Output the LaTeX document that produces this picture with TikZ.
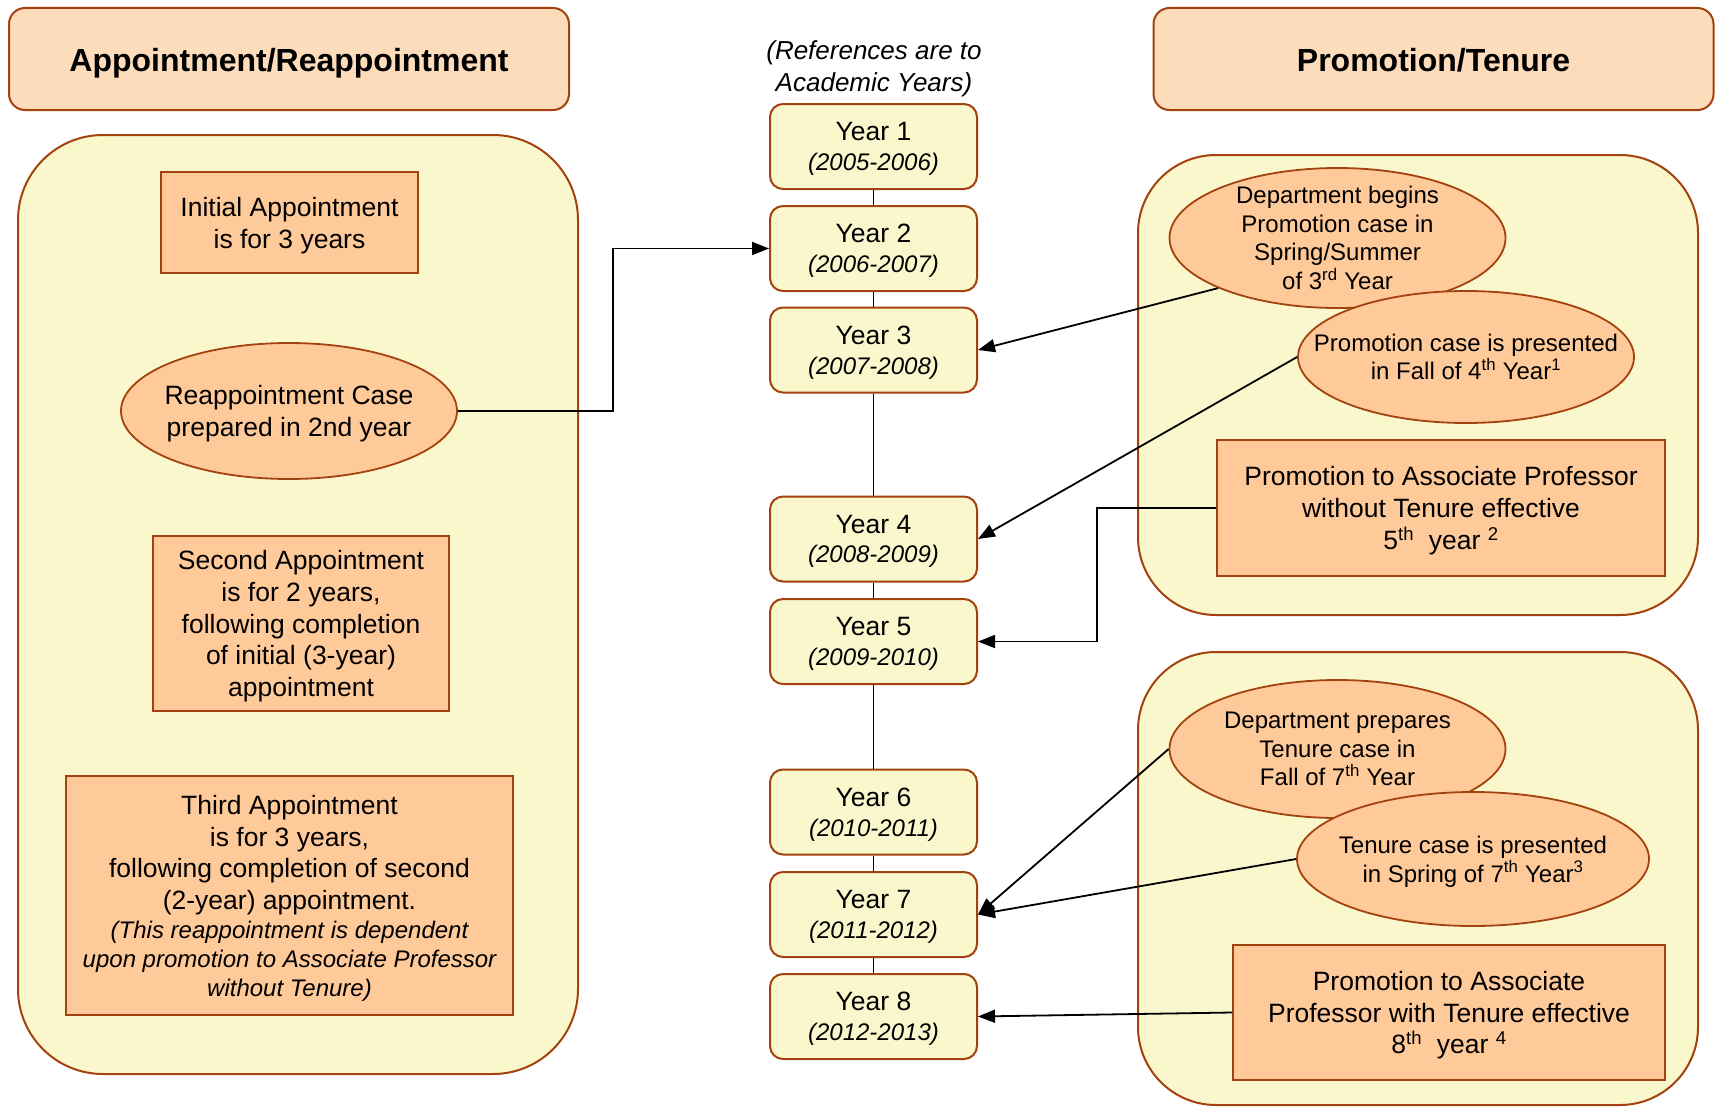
\documentclass[tikz,border=0pt]{standalone}
\usepackage{fontspec}
\setmainfont{Liberation Sans}
\usetikzlibrary{shapes.geometric,arrows.meta}
\definecolor{bord}{HTML}{A3420F}
\definecolor{hdrfill}{HTML}{FDDCBB}
\definecolor{panfill}{HTML}{FAF7CD}
\definecolor{pchfill}{HTML}{FFCA99}
\newcommand\fsA{\fontsize{26.5}{31.8}\selectfont}
\newcommand\fsB{\fontsize{24}{28.6}\selectfont}
\newcommand\fsY{\fontsize{26.5}{29.6}\selectfont}
\newcommand\fsYi{\fontsize{24}{29.6}\selectfont\itshape}
\newcommand\fsH{\fontsize{32}{38}\selectfont\bfseries}
\tikzset{
  hdrbox/.style={draw=bord,fill=hdrfill,line width=2pt,rounded corners=16pt,minimum width=560pt,minimum height=102pt,inner sep=0pt,font=\fsH,text height=25.6pt,text depth=0pt},
  panel/.style={draw=bord,fill=panfill,line width=2pt,inner sep=0pt},
  yearbox/.style={draw=bord,fill=panfill,line width=2pt,rounded corners=13pt,minimum width=207pt,minimum height=85pt,inner sep=0pt,align=center,font=\fsY,text depth=-5pt},
  pbox/.style={draw=bord,fill=pchfill,line width=1.8pt,inner sep=0pt,align=center,font=\fsA,text depth=-2pt},
  pell/.style={ellipse,draw=bord,fill=pchfill,line width=1.8pt,inner sep=0pt,align=center,text depth=-3pt},
  conn/.style={line width=1.8pt,black},
  arr/.style={conn,-{Triangle[length=17pt,width=13pt]}}
}
\begin{document}
\begin{tikzpicture}[x=1pt,y=-1pt]
\useasboundingbox[fill=white] (0,0) rectangle (1719,1108);
% headers
\node[hdrbox] (hl) at (289,59) {Appointment/Reappointment};
\node[hdrbox] (hr) at (1433.5,59) {Promotion/Tenure};
% panels
\node[panel,rounded corners=85pt,minimum width=560pt,minimum height=939pt] (pl) at (298,604.5) {};
\node[panel,rounded corners=78pt,minimum width=560pt,minimum height=460pt] (pru) at (1418,385) {};
\node[panel,rounded corners=78pt,minimum width=560pt,minimum height=453pt] (prl) at (1418,878.5) {};
% note
\node[align=center,font=\fontsize{26}{31.8}\selectfont\itshape] (note) at (874,68.5) {(References are to\\Academic Years)};
% year boxes
\node[yearbox] (y1) at (873.5,146.5) {Year 1\\{\fsYi (2005-2006)}};
\node[yearbox] (y2) at (873.5,248.5) {Year 2\\{\fsYi (2006-2007)}};
\node[yearbox] (y3) at (873.5,350) {Year 3\\{\fsYi (2007-2008)}};
\node[yearbox] (y4) at (873.5,539) {Year 4\\{\fsYi (2008-2009)}};
\node[yearbox] (y5) at (873.5,641.5) {Year 5\\{\fsYi (2009-2010)}};
\node[yearbox] (y6) at (873.5,812) {Year 6\\{\fsYi (2010-2011)}};
\node[yearbox] (y7) at (873.5,914.5) {Year 7\\{\fsYi (2011-2012)}};
\node[yearbox] (y8) at (873.5,1016.5) {Year 8\\{\fsYi (2012-2013)}};
\draw[conn] (y1.south) -- (y2.north);
\draw[conn] (y2.south) -- (y3.north);
\draw[conn] (y3.south) -- (y4.north);
\draw[conn] (y4.south) -- (y5.north);
\draw[conn] (y5.south) -- (y6.north);
\draw[conn] (y6.south) -- (y7.north);
\draw[conn] (y7.south) -- (y8.north);
% left panel content
\node[pbox,minimum width=257pt,minimum height=101pt] (ini) at (289.5,222.5) {Initial Appointment\\is for 3 years};
\node[pell,font=\fsA,inner xsep=-6pt,minimum width=336pt,minimum height=136pt] (ra) at (289,411) {Reappointment Case\\prepared in 2nd year};
\node[pbox,minimum width=296pt,minimum height=175pt] (sec) at (301,623.5) {Second Appointment\\is for 2 years,\\following completion\\of initial (3-year)\\appointment};
\node[pbox,minimum width=447pt,minimum height=239pt] (thi) at (289.5,895.5) {Third Appointment\\is for 3 years,\\following completion of second\\(2-year) appointment.\\[-3pt]{\fsB\itshape (This reappointment is dependent}\\[-3pt]{\fsB\itshape upon promotion to Associate Professor}\\[-3pt]{\fsB\itshape without Tenure)}};
% right upper content
\node[pell,font=\fsB,inner ysep=-4pt,minimum width=336pt,minimum height=140pt] (db) at (1337.5,238) {Department begins\\Promotion case in\\Spring/Summer\\of 3\textsuperscript{rd} Year};
\node[pell,font=\fsB,inner xsep=-34pt,minimum width=336pt,minimum height=132pt] (pp) at (1466,357) {Promotion case is presented\\in Fall of 4\textsuperscript{th} Year\textsuperscript{1}};
\node[pbox,minimum width=448pt,minimum height=136pt] (pw) at (1441,508) {Promotion to Associate Professor\\without Tenure effective\\5\textsuperscript{th}\ \ year \textsuperscript{2}};
% right lower content
\node[pell,font=\fsB,minimum width=336pt,minimum height=138pt] (dp) at (1337.5,749) {Department prepares\\Tenure case in\\Fall of 7\textsuperscript{th} Year};
\node[pell,font=\fsB,inner xsep=-11pt,minimum width=352pt,minimum height=134pt] (tp) at (1473,859) {Tenure case is presented\\in Spring of 7\textsuperscript{th} Year\textsuperscript{3}};
\node[pbox,minimum width=432pt,minimum height=135pt] (pt) at (1449,1012.5) {Promotion to Associate\\Professor with Tenure effective\\8\textsuperscript{th}\ \ year \textsuperscript{4}};
% connectors
\coordinate (c1) at (613,0);
\coordinate (c2) at (1097,0);
\draw[arr] (ra.east) -- (ra.east -| c1) -- (y2.west -| c1) -- (y2.west);
\draw[arr] (db.south west) -- (y3.east);
\draw[arr] (pp.west) -- (y4.east);
\draw[arr] (pw.west) -- (pw.west -| c2) -- (y5.east -| c2) -- (y5.east);
\draw[arr] (dp.west) -- (y7.east);
\draw[arr] (tp.west) -- (y7.east);
\draw[arr] (pt.west) -- (y8.east);
\end{tikzpicture}
\end{document}
